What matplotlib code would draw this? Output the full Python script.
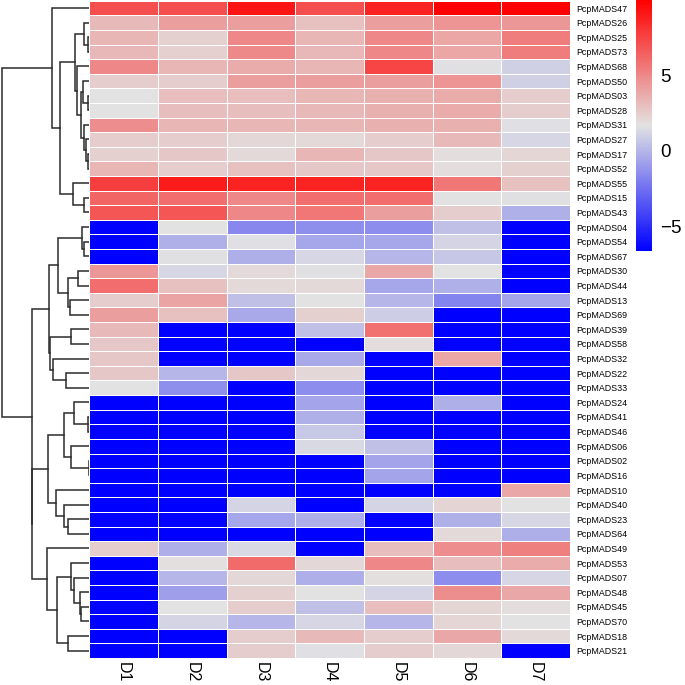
import numpy as np
import matplotlib
matplotlib.use("agg")
import matplotlib.pyplot as plt
from matplotlib.colors import LinearSegmentedColormap

plt.rcParams['font.family'] = ['Liberation Sans', 'DejaVu Sans']

genes = ["PcpMADS47", "PcpMADS26", "PcpMADS25", "PcpMADS73", "PcpMADS68",
         "PcpMADS50", "PcpMADS03", "PcpMADS28", "PcpMADS31", "PcpMADS27",
         "PcpMADS17", "PcpMADS52", "PcpMADS55", "PcpMADS15", "PcpMADS43",
         "PcpMADS04", "PcpMADS54", "PcpMADS67", "PcpMADS30", "PcpMADS44",
         "PcpMADS13", "PcpMADS69", "PcpMADS39", "PcpMADS58", "PcpMADS32",
         "PcpMADS22", "PcpMADS33", "PcpMADS24", "PcpMADS41", "PcpMADS46",
         "PcpMADS06", "PcpMADS02", "PcpMADS16", "PcpMADS10", "PcpMADS40",
         "PcpMADS23", "PcpMADS64", "PcpMADS49", "PcpMADS53", "PcpMADS07",
         "PcpMADS48", "PcpMADS45", "PcpMADS70", "PcpMADS18", "PcpMADS21"]
samples = ["D1", "D2", "D3", "D4", "D5", "D6", "D7"]

# log2 expression per sample, in gene order above
d1 = [7.09, 3.18, 3.34, 3.30, 5.01, 2.51, 1.68, 1.65, 4.84, 2.51, 2.35, 3.34, 7.67, 6.26, 6.84,
      -6.64, -6.64, -6.64, 4.43, 6.01, 2.51, 4.18, 3.18, 2.68, 2.68, 2.68, 1.68,
      -6.64, -6.64, -6.64, -6.64, -6.64, -6.64, -6.64, -6.64, -6.64, -6.64, 2.51,
      -6.64, -6.64, -6.64, -6.64, -6.64, -6.64, -6.64]
d2 = [7.09, 4.18, 2.35, 2.40, 3.34, 2.51, 3.09, 3.10, 3.34, 2.51, 2.68, 2.51, 9.00, 6.01, 6.84,
      1.68, -0.15, 1.60, 1.18, 2.93, 4.01, 2.93, -6.64, -6.64, -6.64, 0.02, -1.40,
      -6.64, -6.64, -6.64, -6.64, -6.64, -6.64, -6.64, -6.64, -6.64, -6.64,
      -0.23, 1.85, 0.02, -0.82, 1.68, 1.10, -6.64, -6.64]
d3 = [9.17, 4.18, 5.01, 4.95, 3.76, 4.18, 3.09, 3.10, 3.34, 2.10, 2.01, 2.93, 8.75, 5.01, 5.01,
      -1.65, 1.51, -0.23, 2.01, 2.01, 0.43, -0.40, -6.64, -6.64, -6.64, 2.68, -6.64,
      -6.64, -6.64, -6.64, -6.64, -6.64, -6.64, -6.64, 1.10, -0.57, -6.64,
      1.35, 6.09, 2.10, 2.35, 2.51, 0.02, 2.51, 2.51]
d4 = [7.09, 2.93, 3.34, 3.30, 3.34, 4.18, 3.34, 3.30, 3.34, 2.01, 3.34, 2.68, 8.75, 6.01, 5.67,
      -1.40, -0.57, 1.18, 1.60, 2.01, 1.68, 2.35, 0.43, -6.64, -0.40, 2.10, -1.48,
      -0.65, -0.15, 0.68, 1.35, -6.64, -6.64, -6.64, -6.64, -0.23, -6.64,
      -6.64, 2.10, -0.23, 1.68, 0.43, 1.18, 3.18, 1.51]
d5 = [8.75, 4.18, 5.01, 5.00, 7.50, 4.18, 3.51, 3.50, 3.51, 2.51, 2.68, 2.68, 8.75, 6.01, 4.18,
      -1.48, -0.57, 0.02, 3.84, -0.57, 0.02, 0.85, 5.84, 1.93, -6.64, -6.64, -6.64,
      -6.64, -6.64, -6.64, 0.43, -0.65, -0.65, -6.64, 1.10, -6.64, -6.64,
      3.09, 5.01, 1.85, 1.10, 3.09, 0.02, 2.51, 2.51]
d6 = [10.0, 4.59, 3.93, 3.90, 1.60, 4.59, 3.76, 3.75, 3.51, 3.18, 1.93, 1.93, 5.67, 1.68, 2.51,
      0.43, 1.10, 0.60, 1.68, -0.15, -1.81, -6.64, -6.64, -6.64, 3.93, -6.64, -6.64,
      -0.23, -6.64, -6.64, -6.64, -6.64, -6.64, -6.64, 2.26, -0.15, 2.01,
      4.84, 3.09, -1.48, 4.76, 2.18, 2.18, 3.84, 2.10]
d7 = [10.0, 4.43, 5.42, 5.40, 1.01, 1.01, 2.51, 2.50, 1.51, 1.18, 2.18, 2.35, 2.93, 1.60, -0.15,
      -6.64, -6.64, -6.64, -6.64, -6.64, -0.65, -6.64, -6.64, -6.64, -6.64, -6.64, -6.64,
      -6.64, -6.64, -6.64, -6.64, -6.64, -6.64, 3.84, 1.68, 1.18, -0.23,
      5.26, 3.76, 1.18, 3.84, 1.93, 1.68, 2.01, -6.64]

# row clustering: (child_a, child_b, height); ids < 45 are genes, 45+k is merge k
merges = [(2, 3, 1.5), (1, 45, 5), (6, 7, 1.0), (5, 47, 6.3), (10, 11, 1.5),
          (9, 49, 3), (8, 50, 5.5), (48, 51, 8.7), (4, 52, 12), (46, 53, 14),
          (13, 14, 5), (12, 55, 16), (54, 56, 29), (0, 57, 37),
          (16, 17, 5.3), (15, 59, 7), (18, 19, 11.3), (20, 21, 18.7), (61, 62, 21.3),
          (60, 63, 31), (22, 23, 17.7), (25, 26, 23), (24, 66, 36.3), (65, 67, 38.7),
          (64, 68, 40.3), (28, 29, 1), (27, 70, 14.7), (31, 32, 0.3), (30, 72, 18),
          (71, 73, 24.7), (35, 36, 20.7), (34, 75, 24.7), (33, 76, 33), (74, 77, 41.3),
          (41, 42, 8), (40, 79, 9.7), (39, 80, 14.7), (38, 81, 18), (43, 44, 20.7),
          (82, 83, 32), (37, 84, 42.3), (78, 85, 56.3), (69, 86, 57), (58, 87, 87)]

data = np.array([d1, d2, d3, d4, d5, d6, d7]).T
n = len(genes)

cmap = LinearSegmentedColormap.from_list("bgr", ["#0000ff", "#e3e3e3", "#ff0000"])
vmin, vmax = data.min(), data.max()

fig = plt.figure(figsize=(6.85, 6.85), dpi=100)
W = 685.0
ax = fig.add_axes([89.3 / W, 27 / W, 480.7 / W, 657.3 / W])
mesh = ax.pcolormesh(np.arange(len(samples) + 1), np.arange(n + 1), data,
                     cmap=cmap, vmin=vmin, vmax=vmax,
                     edgecolors="white", linewidth=0.7)
ax.set_xlim(0, len(samples))
ax.set_ylim(n, 0)
for s in ax.spines.values():
    s.set_visible(False)
ax.yaxis.tick_right()
ax.set_yticks(np.arange(n) + 0.5)
ax.set_yticklabels(genes, fontsize=6.4)
ax.set_xticks(np.arange(len(samples)) + 0.5)
ax.set_xticklabels(samples, fontsize=11.5, rotation=270, va="top")
ax.tick_params(length=0, pad=4.5)
ax.tick_params(axis="x", pad=3)

# dendrogram
dax = fig.add_axes([0, 27 / W, 89.3 / W, 657.3 / W])
pos = {i: (i + 0.5, 0.0) for i in range(n)}
for k, (a, b, h) in enumerate(merges):
    ya, ha = pos[a]
    yb, hb = pos[b]
    dax.plot([ha, h, h, hb], [ya, ya, yb, yb], color="#2b2b2b", lw=1.1,
             solid_joinstyle="miter")
    pos[n + k] = ((ya + yb) / 2, h)
dax.set_ylim(n, 0)
dax.set_xlim(88.5, 0)
dax.axis("off")

# colour key
cax = fig.add_axes([635.7 / W, 1 - 251 / W, 16.6 / W, 251 / W])
cb = fig.colorbar(mesh, cax=cax, ticks=[-5, 0, 5])
cb.outline.set_visible(False)
cax.tick_params(length=0, labelsize=13.5, pad=5.5)

fig.savefig("out.png", dpi=100)
